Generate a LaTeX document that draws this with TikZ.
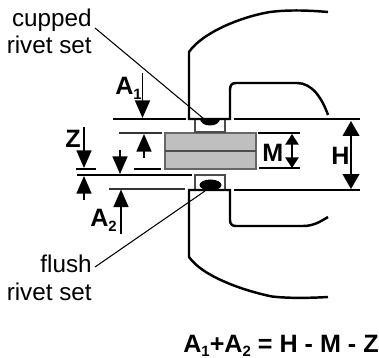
\documentclass[tikz,border=0pt]{standalone}
\usepackage{fontspec}
\setmainfont{Liberation Sans}
\usetikzlibrary{arrows.meta}
\newcommand{\sbs}[1]{\raisebox{-2.6pt}{\fontsize{8.5}{9}\selectfont #1}}
\tikzset{
  jaw/.style={line width=1.4pt},
  datum/.style={line width=1.1pt},
  thin datum/.style={line width=0.7pt, black!80},
  setbox/.style={draw=black!70, line width=0.6pt},
  leader/.style={line width=0.6pt},
  dim/.style={line width=1.0pt, -{Triangle[length=10pt,width=8.5pt]}},
  dimm/.style={line width=1.0pt, {Triangle[length=6pt,width=7.5pt]}-{Triangle[length=6pt,width=7.5pt]}},
  dimh/.style={line width=1.0pt, {Triangle[length=8.5pt,width=9.5pt]}-{Triangle[length=8.5pt,width=9.5pt]}},
  lab/.style={font=\fontsize{13.8}{15.4}\selectfont, align=right, inner sep=0pt},
  sym/.style={font=\fontsize{14.3}{16}\selectfont\bfseries, inner sep=0pt, anchor=base west}
}
\begin{document}
\begin{tikzpicture}[x=0.02cm,y=-0.02cm]
  \useasboundingbox (0,0) rectangle (379,358);

  \filldraw[fill=black!25, draw=black!60, line width=0.6pt] (165,133) rectangle (256,169); %Block
  \draw[line width=0.9pt, black!70] (165,151) -- (256,151);

  \draw[setbox] (195,119) rectangle (225,132); %Cupped set
  \draw[setbox] (195,175) rectangle (225,190); %Flush set
  \fill (200,119) arc (180:360:10 and -6.5) -- cycle;
  \fill (210.5,185) ellipse (11 and 5.5);

  %Upper jaw
  \draw[jaw] (328,12) .. controls (310,10.5) and (290,9.5) .. (270,12)
     .. controls (240,17) and (202,33) .. (189,52) -- (189,119) -- (230,119) -- (230,90)
     .. controls (230,85) and (232,83) .. (236,83) -- (297,83)
     .. controls (312,83) and (322,98) .. (328,115);
  %Lower jaw
  \draw[jaw] (328,297) .. controls (310,298) and (290,298.5) .. (272,296.5)
     .. controls (245,291) and (203,277) .. (189,257) -- (189,190) -- (230,190) -- (230,220)
     .. controls (230,224) and (232,226) .. (236,226) -- (303,226)
     .. controls (313,226) and (320,222) .. (328,217);

  \draw[datum] (113,119) -- (186,119);
  \draw[thin datum] (119,133) -- (162,133);
  \draw[datum] (134,169) -- (161,169);
  \draw[datum] (76,169) -- (96,169);
  \draw[datum] (77,175) -- (192,175);
  \draw[thin datum] (109,189) -- (185,189);
  \draw[datum] (234,119) -- (360,119);
  \draw[datum] (234,190) -- (360,190);
  \draw[datum] (258,133) -- (300,133);
  \draw[datum] (259,168) -- (300,168);

  \draw[dim] (142.5,73) -- (142.5,118);
  \draw[dim] (144,158) -- (144,134);
  \draw[dim] (84,127) -- (84,168);
  \draw[dim] (84,200) -- (84,176);
  \draw[dim] (120,150) -- (120,174);
  \draw[dim] (121,234) -- (121,189.5);
  \draw[dimm] (292,134) -- (292,168);
  \draw[dimh] (351,121) -- (351,189);

  \draw[leader] (95,28) -- (210,124);
  \draw[leader] (95,267) -- (205,191);

  \node[lab, anchor=base east] (cupped) at (92,27) {cupped};
  \node[lab, anchor=base east] (cuppedb) at (92,54) {rivet set};
  \node[lab, anchor=base east] (flush) at (92,273) {flush};
  \node[lab, anchor=base east] (flushb) at (92,300.5) {rivet set};
  \node[sym] (aone) at (115,95) {A\sbs{1}};
  \node[sym] (atwo) at (90,227) {A\sbs{2}};
  \node[sym] (z) at (65,148) {Z};
  \node[sym] (m) at (262,162) {M};
  \node[sym] (h) at (331,165) {H};
  \node[sym] (formula) at (183,352) {A\sbs{1}+A\sbs{2} = H - M - Z};
\end{tikzpicture}
\end{document}
